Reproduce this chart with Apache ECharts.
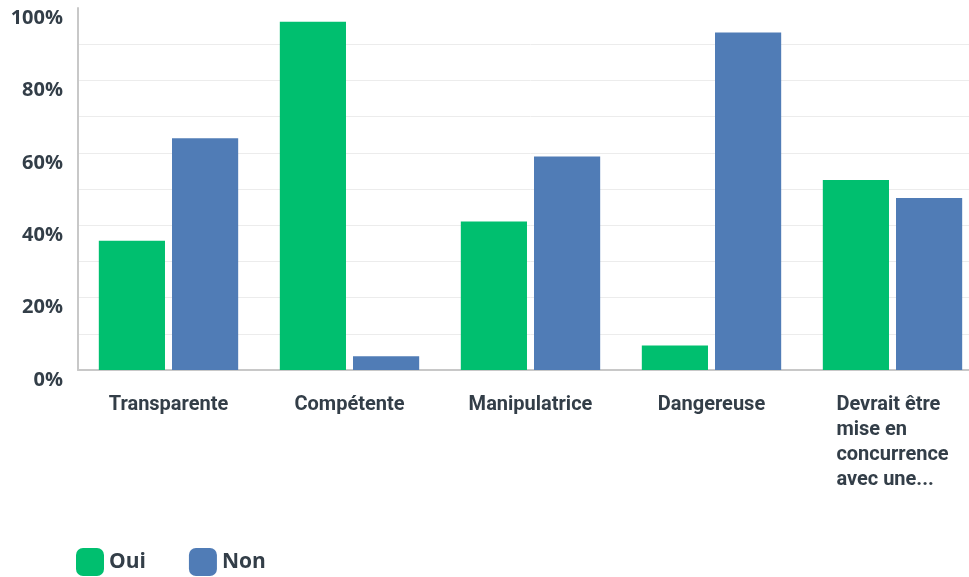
<!DOCTYPE html>
<html>
<head>
<meta charset="utf-8">
<script src="https://cdn.jsdelivr.net/npm/echarts@6/dist/echarts.min.js"></script>
<style>
  html, body { margin: 0; padding: 0; background: #fff; overflow: hidden; }
  /* la zone de tracé déborde à droite, comme dans l'original */
  #main { width: 983px; height: 577px; }
</style>
</head>
<body>
<div id="main"></div>
<script>
var categories = ['Transparente', 'Compétente', 'Manipulatrice', 'Dangereuse', 'Devrait être mise en concurrence avec une...'];
var oui = [35.7, 96.2, 41.0, 6.8, 52.5];
var non = [64.0, 3.8, 59.0, 93.2, 47.5];
var yTicks = [0, 20, 40, 60, 80, 100];

var textColor = '#333e48';

// coupe les libellés longs en lignes de 12 caractères max
function wrap(str) {
    var words = str.split(' ');
    var lines = [];
    var cur = '';
    for (var i = 0; i < words.length; i++) {
        var next = cur ? cur + ' ' + words[i] : words[i];
        if (cur && next.length > 12) {
            lines.push(cur);
            cur = words[i];
        } else {
            cur = next;
        }
    }
    if (cur) lines.push(cur);
    return '{a|' + lines.join('}\n{a|') + '}';
}

var myChart = echarts.init(document.getElementById('main'));
var option = {
    animation: false,
    grid: {
        left: 78,
        right: 0,
        top: 8,
        bottom: 207
    },
    legend: {
        left: 76,
        top: 548,
        padding: 0,
        itemWidth: 28,
        itemHeight: 28,
        itemGap: 43,
        icon: 'roundRect',
        textStyle: {
            color: textColor,
            fontSize: 21,
            fontWeight: 'bold',
            fontFamily: 'Open Sans'
        },
        data: ['Oui', 'Non']
    },
    xAxis: {
        type: 'category',
        data: categories,
        axisLine: { lineStyle: { color: '#c8c8c8', width: 2 } },
        axisTick: { show: false },
        axisLabel: {
            interval: 0,
            margin: 22,
            formatter: wrap,
            rich: {
                a: {
                    align: 'left',
                    color: textColor,
                    fontSize: 20,
                    fontWeight: 'bold',
                    lineHeight: 25,
                    fontFamily: 'Roboto'
                }
            }
        }
    },
    yAxis: {
        type: 'value',
        min: 0,
        max: 100,
        interval: 10,
        axisLine: { show: true, lineStyle: { color: '#c8c8c8', width: 2 } },
        axisTick: { show: false },
        splitLine: {
            showMaxLine: false,
            lineStyle: { color: '#ececec', width: 1 }
        },
        axisLabel: {
            margin: 15,
            verticalAlign: 'top',
            color: textColor,
            fontSize: 20,
            fontWeight: 'bold',
            fontFamily: 'Open Sans',
            formatter: function (v) {
                return yTicks.indexOf(v) >= 0 ? v + '%' : '';
            }
        }
    },
    series: [{
        name: 'Oui',
        type: 'bar',
        data: oui,
        itemStyle: { color: '#00bf6f' },
        barGap: '10.6%',
        barCategoryGap: '23%'
    }, {
        name: 'Non',
        type: 'bar',
        data: non,
        itemStyle: { color: '#507cb6' }
    }]
};
myChart.setOption(option);
</script>
</body>
</html>
